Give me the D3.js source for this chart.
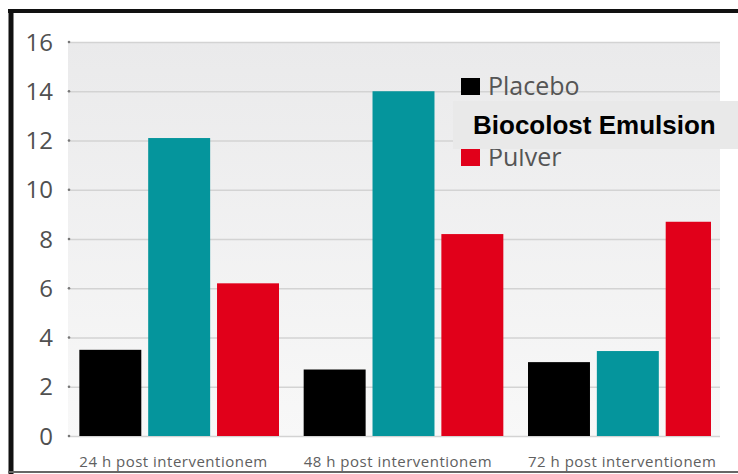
<!DOCTYPE html>
<html lang="de">
<head>
<meta charset="UTF-8">
<title>Bar chart</title>
<style>
    body { margin: 0; background: #fff; }
    svg { display: block; font-family: "Open Sans", sans-serif; }
    .grid line { stroke: #d3d3d3; stroke-width: 1.5px; }
    .ytick text { fill: #505050; font-size: 24px; }
    .xlab { fill: #606060; font-size: 15px; letter-spacing: 0.5px; }
    .leg text { fill: #555; font-size: 25px; }
</style>
</head>
<body>
<div id="chart"></div>
<script src="https://d3js.org/d3.v7.min.js"></script>
<script>
    // data
    const categories = ["24 h post interventionem", "48 h post interventionem", "72 h post interventionem"];
    const series = ["Placebo", "Biocolost Emulsion", "Pulver"];
    const colors = ["#000000", "#05959c", "#e1001a"];
    const placebo = [3.5, 2.7, 3.0];
    const biocolost = [12.1, 14.0, 3.45];
    const pulver = [6.2, 8.2, 8.7];
    const yTicks = [0, 2, 4, 6, 8, 10, 12, 14, 16];

    const values = [placebo, biocolost, pulver];

    const W = 738, H = 474;
    const plot = { left: 68, right: 720, top: 42, bottom: 436 };

    const svg = d3.select("#chart").append("svg")
        .attr("width", W)
        .attr("height", H);

    const defs = svg.append("defs");
    const grad = defs.append("linearGradient")
        .attr("id", "bg").attr("x1", 0).attr("y1", 0).attr("x2", 0).attr("y2", 1);
    grad.append("stop").attr("offset", "0%").attr("stop-color", "#eaeaeb");
    grad.append("stop").attr("offset", "100%").attr("stop-color", "#f8f8f8");

    // last red bar is cut off in the original
    defs.append("clipPath").attr("id", "clip")
      .append("rect")
        .attr("x", plot.left).attr("y", 0)
        .attr("width", 711 - plot.left).attr("height", H);

    const y = d3.scaleLinear().domain([0, 16]).range([plot.bottom, plot.top]);

    const x0 = d3.scaleBand()
        .domain(categories)
        .range([67, 740])
        .paddingInner(0.11)
        .paddingOuter(0.055);

    const x1 = d3.scaleBand()
        .domain(series)
        .range([0, x0.bandwidth()])
        .paddingInner(0.1);

    // plot background
    svg.append("rect")
        .attr("x", plot.left).attr("y", plot.top)
        .attr("width", plot.right - plot.left)
        .attr("height", plot.bottom - plot.top)
        .attr("fill", "url(#bg)");

    // grid lines
    const yAxis = d3.axisLeft(y).tickValues(yTicks)
        .tickSize(-(plot.right - plot.left)).tickFormat("");
    svg.append("g")
        .attr("class", "grid")
        .attr("transform", "translate(" + plot.left + ",0)")
        .call(yAxis)
        .call(g => g.select(".domain").remove());

    // tick labels
    const yt = svg.append("g").attr("class", "ytick");
    yt.selectAll("text")
        .data(yTicks)
      .enter().append("text")
        .attr("x", 53)
        .attr("y", d => y(d))
        .attr("dy", "0.36em")
        .attr("text-anchor", "end")
        .text(d => d);
    yt.selectAll("circle")
        .data(yTicks)
      .enter().append("circle")
        .attr("cx", plot.left + 1)
        .attr("cy", d => y(d))
        .attr("r", 1.3)
        .attr("fill", "#777");

    // bars
    const groups = svg.append("g")
        .attr("clip-path", "url(#clip)")
      .selectAll("g")
        .data(categories)
      .enter().append("g")
        .attr("transform", d => "translate(" + x0(d) + ",0)");

    groups.selectAll("rect")
        .data((d, i) => series.map((s, j) => ({ s: s, v: values[j][i], c: colors[j] })))
      .enter().append("rect")
        .attr("x", d => x1(d.s))
        .attr("y", d => y(d.v))
        .attr("width", x1.bandwidth())
        .attr("height", d => y(0) - y(d.v))
        .attr("fill", d => d.c);

    // category labels, left aligned under the first bar
    svg.append("g").selectAll("text")
        .data(categories)
      .enter().append("text")
        .attr("class", "xlab")
        .attr("x", d => x0(d))
        .attr("y", 467)
        .text(d => d);

    // legend (middle entry is covered by the pasted label box)
    const leg = svg.append("g").attr("class", "leg");
    const legY = d3.scalePoint().domain(series).range([86, 157]);
    const item = leg.selectAll("g")
        .data(series)
      .enter().append("g")
        .attr("transform", d => "translate(461," + legY(d) + ")");
    item.append("rect")
        .attr("x", 0).attr("y", -8)
        .attr("width", 19).attr("height", 17)
        .attr("fill", (d, i) => colors[i]);
    item.filter(d => d !== series[1]).append("text")
        .attr("x", 27)
        .attr("y", 0)
        .attr("dy", "0.35em")
        .text(d => d);

    svg.append("rect")
        .attr("x", 453).attr("y", 101)
        .attr("width", W - 453).attr("height", 48)
        .attr("fill", "#e9e9e9");
    svg.append("text")
        .attr("x", 473)
        .attr("y", 134)
        .attr("font-family", "Liberation Sans, Arial, sans-serif")
        .attr("font-weight", "bold")
        .attr("font-size", 26)
        .attr("fill", "#000")
        .text(series[1]);

    // frame
    svg.append("line")
        .attr("x1", 8).attr("x2", W).attr("y1", 11).attr("y2", 11)
        .attr("stroke", "#111").attr("stroke-width", 4);
    svg.append("line")
        .attr("x1", 11).attr("x2", 11).attr("y1", 9).attr("y2", H)
        .attr("stroke", "#111").attr("stroke-width", 5);
    svg.append("line")
        .attr("x1", 8).attr("x2", W).attr("y1", 472).attr("y2", 472)
        .attr("stroke", "#666").attr("stroke-width", 2);
</script>
</body>
</html>
